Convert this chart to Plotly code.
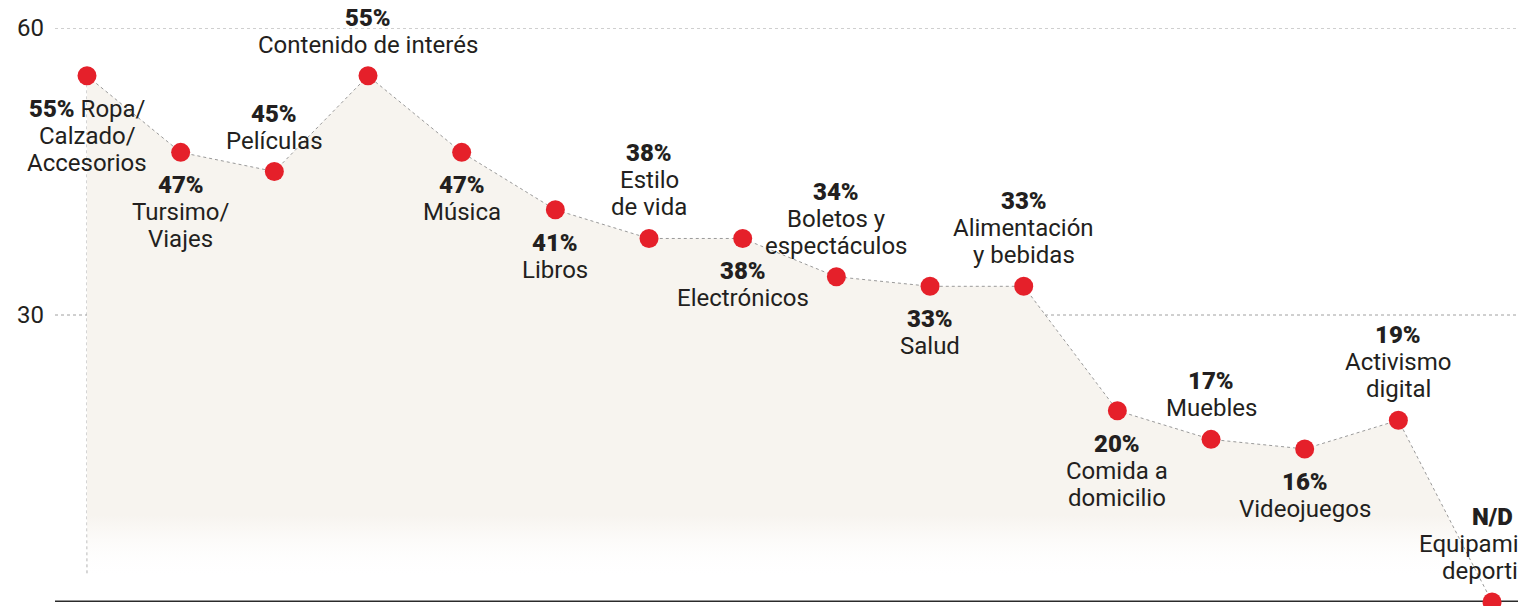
import plotly.graph_objects as go

categories = ["Ropa/|Calzado/|Accesorios", "Tursimo/|Viajes", "Películas", "Contenido de interés",
              "Música", "Libros", "Estilo|de vida", "Electrónicos", "Boletos y|espectáculos", "Salud",
              "Alimentación|y bebidas", "Comida a|domicilio", "Muebles", "Videojuegos",
              "Activismo|digital", "Equipamiento|deportivo"]
values = [55, 47, 45, 55, 47, 41, 38, 38, 34, 33, 33, 20, 17, 16, 19, 0]
value_labels = ["55%", "47%", "45%", "55%", "47%", "41%", "38%", "38%", "34%", "33%", "33%",
                "20%", "17%", "16%", "19%", "N/D"]
label_side = ["below", "below", "above", "above", "below", "below", "above", "below", "above",
              "below", "above", "below", "above", "below", "above", "above"]
y_ticks = [0, 30, 60]

FONT = "Roboto"
TXT = "#231f20"
FS = 24
PITCH = 27
x_idx = list(range(len(values)))

fig = go.Figure()
fig.add_trace(go.Scatter(
    x=x_idx, y=values, mode="lines+markers",
    line=dict(color="#9a9a9a", width=1, dash="dot"),
    marker=dict(color="#e5202a", size=19),
    fill="tozeroy",
    fillgradient=dict(type="vertical", start=0, stop=60,
                      colorscale=[[0, "rgba(255,255,255,0)"], [0.04, "rgba(255,255,255,0)"],
                                  [0.15, "rgba(247,244,239,1)"], [1, "rgba(247,244,239,1)"]]),
    cliponaxis=False, hoverinfo="skip", showlegend=False,
))

# gridlines
for t in y_ticks[1:]:
    fig.add_shape(type="line", x0=0, x1=1, xref="paper", y0=t, y1=t, yref="y",
                  line=dict(color="#a0a0a0", width=1, dash="dot"), layer="below")
# drop line under the first point
fig.add_shape(type="line", x0=0, x1=0, y0=3, y1=values[0], xref="x", yref="y",
              line=dict(color="#a8a8a8", width=1, dash="dot"), layer="below")
# baseline
fig.add_shape(type="line", x0=0, x1=1, xref="paper", y0=0, y1=0, yref="y",
              line=dict(color="#2b2b2b", width=3), layer="below")


def line_ann(x, y, text, shift, bold=False):
    fig.add_annotation(
        x=x, y=y, xref="x", yref="y", text=text, showarrow=False,
        xanchor="center", yanchor="middle", yshift=shift,
        font=dict(family=FONT, size=FS, color=TXT, weight=900 if bold else 400),
    )


for i, (cat, v, vl, side) in enumerate(zip(categories, values, value_labels, label_side)):
    lines = cat.split("|")
    if i == 0:
        # "55% Ropa/" on one line
        first = lines[0]
        fig.add_annotation(
            x=i, y=v, xref="x", yref="y",
            text=f"<span style='font-weight:900'>{vl}</span> {first}", showarrow=False,
            xanchor="center", yanchor="middle", yshift=-33,
            font=dict(family=FONT, size=FS, color=TXT),
        )
        for k, ln in enumerate(lines[1:]):
            line_ann(i, v, ln, -33 - PITCH * (k + 1))
        continue
    if side == "above":
        n = len(lines)
        for k, ln in enumerate(lines):
            line_ann(i, v, ln, 31 + PITCH * (n - 1 - k))
        line_ann(i, v, vl, 31 + PITCH * n, bold=True)
    else:
        line_ann(i, v, vl, -33, bold=True)
        for k, ln in enumerate(lines):
            line_ann(i, v, ln, -33 - PITCH * (k + 1))

fig.update_layout(
    width=1518, height=606,
    margin=dict(l=55, r=0, t=28, b=4),
    paper_bgcolor="white", plot_bgcolor="white",
    font=dict(family=FONT, color=TXT),
    xaxis=dict(range=[-0.3416, 15.277], showgrid=False, zeroline=False, showticklabels=False,
               fixedrange=True),
    yaxis=dict(range=[0, 60], tickvals=y_ticks, ticktext=[str(t) for t in y_ticks],
               showgrid=False, zeroline=False, ticks="", ticklabelstandoff=10,
               tickfont=dict(family=FONT, size=24, color=TXT), fixedrange=True),
)

fig.write_html("out.html", config={"displayModeBar": False},
               post_script="document.body.style.margin='0';document.body.style.overflow='hidden';")
